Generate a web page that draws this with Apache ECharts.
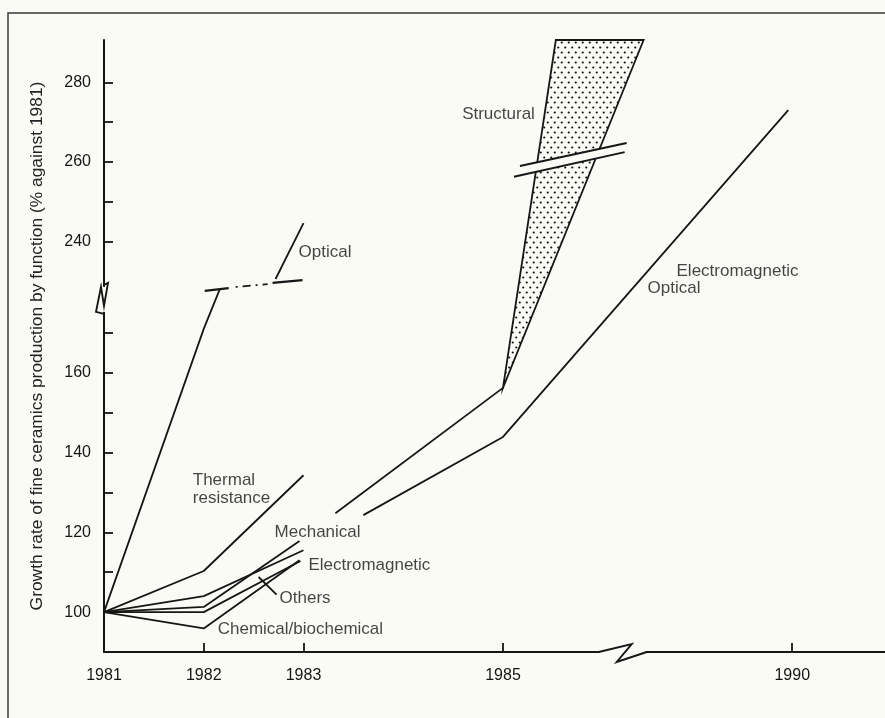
<!DOCTYPE html>
<html>
<head>
<meta charset="utf-8">
<script src="https://cdn.jsdelivr.net/npm/echarts@6/dist/echarts.min.js"></script>
<style>
html, body { margin: 0; padding: 0; background: #fbfbf6; }
#chart { width: 885px; height: 718px; }
</style>
</head>
<body>
<div id="chart"></div>
<script>
// axis ticks / labels
var yearTicks = [1982, 1983, 1985, 1990];
var yearLabels = [1981, 1982, 1983, 1985, 1990];
var pctTicks = [100, 110, 120, 130, 140, 150, 160, 170, 240, 250, 260, 270, 280];
var pctLabels = [100, 120, 140, 160, 240, 260, 280];

// growth by function, % against 1981 ([year, value])
var thermal = [[1981, 100], [1982, 110.3], [1983, 134.3]];
var mechanical = [[1981, 100], [1982, 101.3], [1982.96, 117.8]];
var electromagnetic = [[1981, 100], [1982, 104], [1983, 115.5]];
var others = [[1981, 100], [1982, 100], [1982.97, 112.8]];
var chemical = [[1981, 100], [1982, 95.9], [1982.96, 113]];
var opticalLow = [[1981, 100], [1982, 171], [1982.16, 228.1]];
var opticalHigh = [[1982.72, 230.7], [1983, 244.7]];
var opticalGap = [[1982.32, 228.7], [1982.64, 229.4]];
var opticalCutA = [[1982.01, 227.7], [1982.25, 228.4]];
var opticalCutB = [[1982.69, 229.7], [1982.99, 230.4]];
var structural = [[1983.32, 124.8], [1985, 156.2]];
var elecOptical = [[1983.6, 124.3], [1985, 143.9], [1989.96, 273]];
var wedge = [[1985, 156.2], [1985.53, 290.6], [1986.41, 290.6]];
var wedgeCutA = [[1985.17, 259], [1986.24, 264.8]];
var wedgeCutB = [[1985.11, 256.3], [1986.22, 262.5]];
var othersPointer = [[1982.55, 108.8], [1982.73, 104.4]];

// annotations
var noteText = ['Optical', 'Structural', 'Electromagnetic', 'Optical', 'Thermal\nresistance',
    'Mechanical', 'Electromagnetic', 'Others', 'Chemical/biochemical'];
var noteX = [1982.95, 1985.32, 1988.84, 1988.55, 1981.89, 1982.71, 1983.05, 1982.76, 1982.14];
var noteY = [237.5, 272, 232.7, 228.4, 130.8, 120.05, 111.8, 103.5, 95.7];

var INK = '#161616';
var BG = '#fbfbf6';
var FONT = '"Liberation Sans", Arial, sans-serif';

// dot screen for the structural wedge
var dots = document.createElement('canvas');
dots.width = 7;
dots.height = 10;
var dctx = dots.getContext('2d');
dctx.fillStyle = BG;
dctx.fillRect(0, 0, 7, 10);
dctx.fillStyle = '#111';
dctx.beginPath();
dctx.arc(1.75, 2.5, 1.1, 0, Math.PI * 2);
dctx.closePath();
dctx.moveTo(6.35, 7.5);
dctx.arc(5.25, 7.5, 1.1, 0, Math.PI * 2);
dctx.fill();

function seg(data, extra) {
    var s = {
        type: 'line',
        data: data,
        symbol: 'none',
        silent: true,
        animation: false,
        lineStyle: { color: INK, width: 1.8 }
    };
    return Object.assign(s, extra || {});
}

function polygonSeries(points, style, z) {
    return {
        type: 'custom',
        data: [points[0]],
        silent: true,
        animation: false,
        z: z,
        renderItem: function (params, api) {
            var pts = points.map(function (p) { return api.coord(p); });
            return { type: 'polygon', shape: { points: pts }, style: style };
        }
    };
}

var chart = echarts.init(document.getElementById('chart'));

var option = {
    backgroundColor: BG,
    animation: false,
    textStyle: { fontFamily: FONT },
    grid: { left: 104, right: 0, top: 40, bottom: 66 },
    xAxis: {
        type: 'value',
        min: 1981,
        max: 1990.93,
        breaks: [{ start: 1986.45, end: 1988.55, gap: 0 }],
        breakArea: { show: false },
        splitLine: { show: false },
        axisLine: { lineStyle: { color: INK, width: 2 } },
        axisTick: { inside: true, length: 9, customValues: yearTicks, lineStyle: { color: INK, width: 1.8 } },
        axisLabel: { customValues: yearLabels, margin: 16, fontSize: 16, color: '#151515', fontFamily: FONT,
            formatter: function (v) { return String(Math.round(v)); } }
    },
    yAxis: {
        type: 'value',
        min: 90,
        max: 290.6,
        breaks: [{ start: 178, end: 225.2, gap: 0 }],
        breakArea: { show: false },
        splitLine: { show: false },
        name: 'Growth rate of fine ceramics production by function (% against 1981)',
        nameLocation: 'middle',
        nameGap: 58,
        nameTextStyle: { fontSize: 17.4, color: '#222', fontFamily: FONT },
        axisLine: { show: true, lineStyle: { color: INK, width: 2 } },
        axisTick: { inside: true, length: 9, customValues: pctTicks, lineStyle: { color: INK, width: 1.8 } },
        axisLabel: { customValues: pctLabels, margin: 13, fontSize: 16, color: '#151515', fontFamily: FONT,
            formatter: function (v) { return String(Math.round(v)); } }
    },
    graphic: [{
        id: 'frame',
        type: 'rect',
        silent: true,
        z: -10,
        shape: { x: 8, y: 13, width: 900, height: 720 },
        style: { fill: 'none', stroke: '#3a3a3a', lineWidth: 1.5 }
    }],
    series: [
        polygonSeries(wedge, { fill: { image: dots, repeat: 'repeat' }, stroke: INK, lineWidth: 1.8 }, 2),
        polygonSeries([wedgeCutA[0], wedgeCutA[1], wedgeCutB[1], wedgeCutB[0]], { fill: BG, stroke: null }, 3),
        seg(wedgeCutA, { z: 4, lineStyle: { color: INK, width: 2 } }),
        seg(wedgeCutB, { z: 4, lineStyle: { color: INK, width: 2 } }),
        seg(thermal),
        seg(mechanical),
        seg(electromagnetic),
        seg(others),
        seg(chemical),
        seg(opticalLow),
        seg(opticalHigh),
        seg(opticalGap, { lineStyle: { color: INK, width: 1.8, type: [2, 5, 8, 5] } }),
        seg(opticalCutA, { lineStyle: { color: INK, width: 2.2 } }),
        seg(opticalCutB, { lineStyle: { color: INK, width: 2.2 } }),
        seg(structural),
        seg(elecOptical),
        seg(othersPointer),
        {
            type: 'scatter',
            silent: true,
            animation: false,
            symbolSize: 0,
            z: 5,
            data: noteText.map(function (t, i) {
                return {
                    value: [noteX[i], noteY[i]],
                    name: t,
                    label: { position: t === 'Structural' ? 'left' : 'right' }
                };
            }),
            label: {
                show: true,
                distance: 0,
                fontSize: 17,
                lineHeight: 18,
                color: '#151515',
                fontFamily: FONT,
                formatter: function (p) { return p.name; }
            }
        }
    ]
};

chart.setOption(option);

// axis break marks, placed at the break positions from the axes
var yb = chart.convertToPixel({ gridIndex: 0 }, [1981, 178]);
var xb = chart.convertToPixel({ gridIndex: 0 }, [1986, 90]);

chart.setOption({
    graphic: [
        {
            id: 'yCover', type: 'line', silent: true, z: 50,
            shape: { x1: yb[0], y1: yb[1] - 14, x2: yb[0], y2: yb[1] + 11 },
            style: { stroke: BG, lineWidth: 4 }
        },
        {
            id: 'yZig', type: 'polyline', silent: true, z: 51,
            shape: { points: [[yb[0], yb[1] + 13], [yb[0] - 8, yb[1] + 11], [yb[0] - 3, yb[1] - 14],
                [yb[0], yb[1] + 5], [yb[0] + 4, yb[1] - 18], [yb[0], yb[1] - 16]] },
            style: { stroke: INK, lineWidth: 1.9, fill: null }
        },
        {
            id: 'xCover', type: 'line', silent: true, z: 50,
            shape: { x1: xb[0] - 3, y1: xb[1], x2: xb[0] + 43, y2: xb[1] },
            style: { stroke: BG, lineWidth: 4 }
        },
        {
            id: 'xZig', type: 'polyline', silent: true, z: 51,
            shape: { points: [[xb[0] - 4, xb[1]], [xb[0] + 29, xb[1] - 8], [xb[0] + 14, xb[1] + 10], [xb[0] + 44, xb[1]]] },
            style: { stroke: INK, lineWidth: 1.9, fill: null }
        }
    ]
});
</script>
</body>
</html>
